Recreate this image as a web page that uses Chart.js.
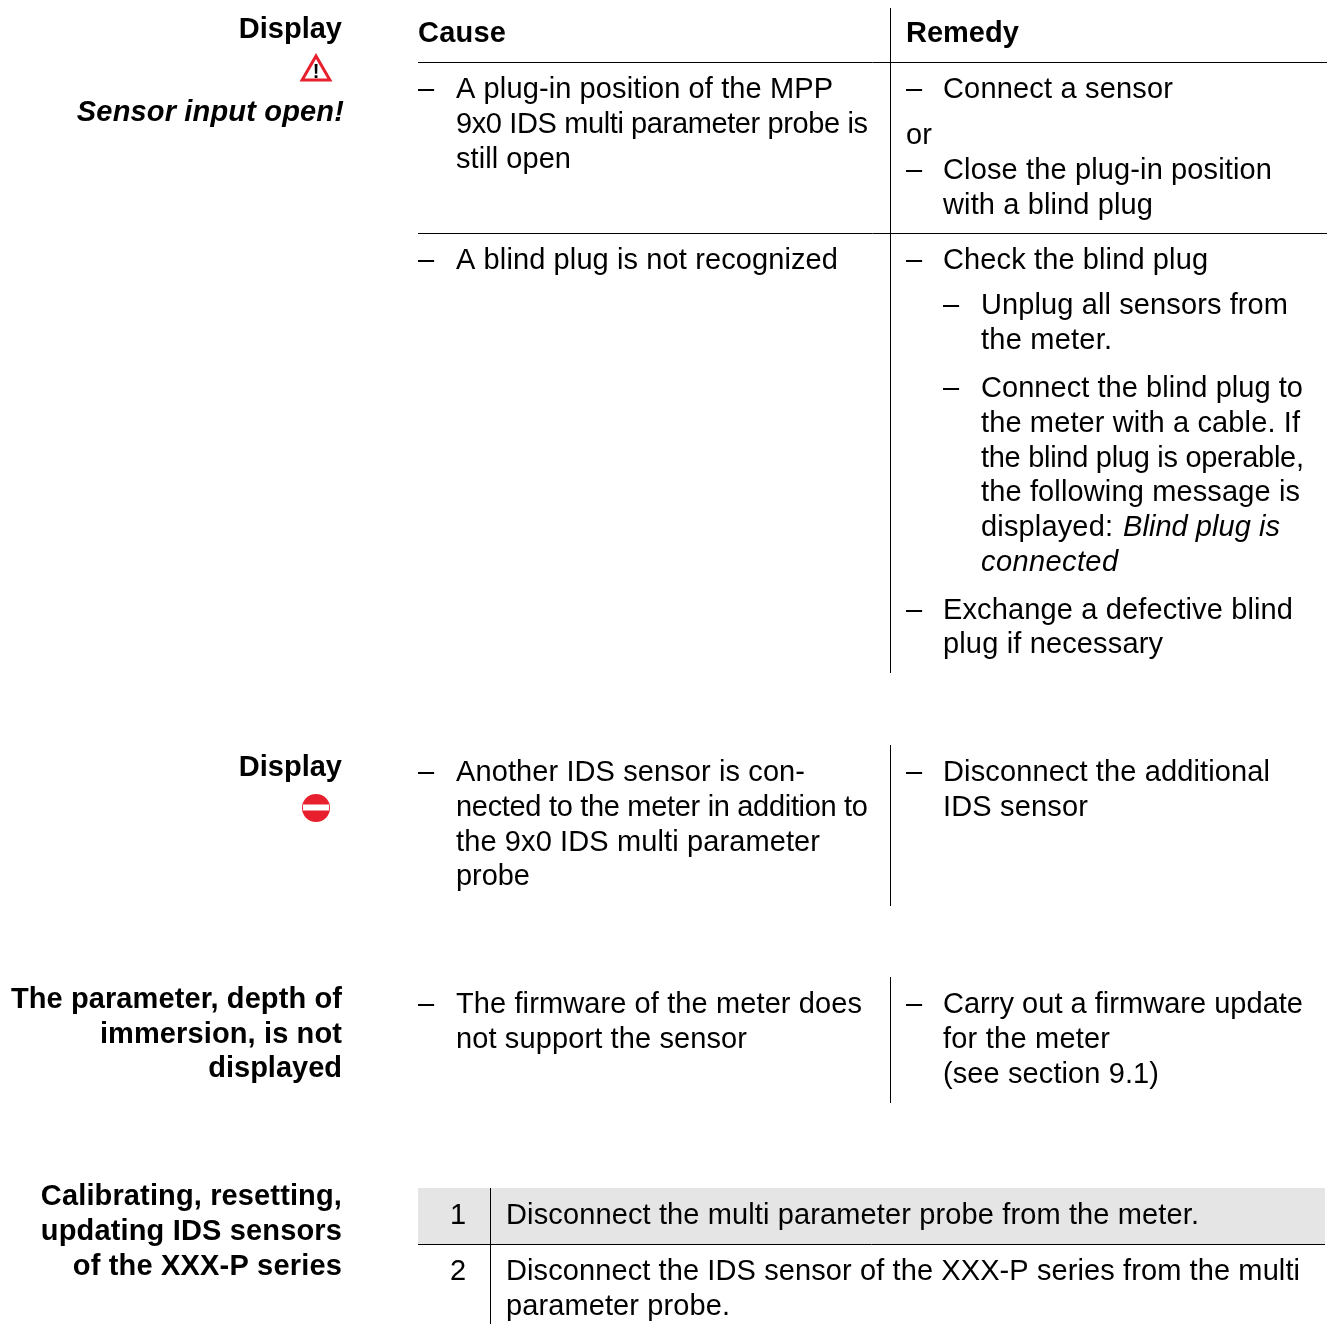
<!DOCTYPE html>
<html>
<head>
<meta charset="utf-8">
<title>Display, cause and remedy</title>
<script src="https://cdn.jsdelivr.net/npm/chart.js@4/dist/chart.umd.min.js"></script>
<style>
    html, body { margin: 0; padding: 0; background: #fff; }
    canvas { display: block; }
</style>
</head>
<body>
<canvas id="page" width="1330" height="1324"></canvas>
<script>
// text lines: [anchor x, baseline, text, optional far edge x]
const headings = [
    [342, 38, "Display"],
    [342, 776, "Display"],
    [342, 1008, "The parameter, depth of", 11],
    [342, 1043, "immersion, is not", 100],
    [342, 1077, "displayed"],
    [342, 1205, "Calibrating, resetting,", 41],
    [342, 1240, "updating IDS sensors", 41],
    [342, 1275, "of the XXX-P series", 73],
];
const errorMessages = [[344, 121, "Sensor input open!", 77]];
const columnTitles = [
    [418, 42, "Cause", 506],
    [906, 42, "Remedy"],
];
const causeLines = [
    [418, 98, "–"], [456, 98, "A plug-in position of the MPP", 833],
    [456, 133, "9x0 IDS multi parameter probe is", 868],
    [456, 168, "still open", 571],
    [418, 269, "–"], [456, 269, "A blind plug is not recognized", 838],
    [418, 781, "–"], [456, 781, "Another IDS sensor is con-", 805],
    [456, 816, "nected to the meter in addition to", 868],
    [456, 851, "the 9x0 IDS multi parameter", 820],
    [456, 885, "probe", 530],
    [418, 1013, "–"], [456, 1013, "The firmware of the meter does", 862],
    [456, 1048, "not support the sensor", 747],
];
const remedyLines = [
    [906, 98, "–"], [943, 98, "Connect a sensor", 1173],
    [906, 144, "or"],
    [906, 179, "–"], [943, 179, "Close the plug-in position", 1272],
    [943, 214, "with a blind plug", 1153],
    [906, 269, "–"], [943, 269, "Check the blind plug", 1208],
    [943, 314, "–"], [981, 314, "Unplug all sensors from", 1288],
    [981, 349, "the meter.", 1112],
    [943, 397, "–"], [981, 397, "Connect the blind plug to", 1303],
    [981, 432, "the meter with a cable. If", 1300],
    [981, 467, "the blind plug is operable,", 1304],
    [981, 501, "the following message is", 1300],
    [981, 536, "displayed:", 1113],
    [906, 619, "–"], [943, 619, "Exchange a defective blind", 1293],
    [943, 653, "plug if necessary", 1163],
    [906, 781, "–"], [943, 781, "Disconnect the additional", 1270],
    [943, 816, "IDS sensor", 1088],
    [906, 1013, "–"], [943, 1013, "Carry out a firmware update", 1303],
    [943, 1048, "for the meter", 1110],
    [943, 1083, "(see section 9.1)", 1159],
];
const italicLines = [
    [1123, 536, "Blind plug is", 1280],
    [981, 571, "connected", 1118],
];
const stepNumbers = [
    [450, 1224, "1"],
    [450, 1280, "2"],
];
const stepText = [
    [506, 1224, "Disconnect the multi parameter probe from the meter.", 1199],
    [506, 1280, "Disconnect the IDS sensor of the XXX-P series from the multi", 1300],
    [506, 1315, "parameter probe.", 730],
];
const warningMark = [[316, 78, "!"]];

// rules as [x1, y1, x2, y2]
const rules = [
    [890.5, 8, 890.5, 673],
    [890.5, 745, 890.5, 906],
    [890.5, 977, 890.5, 1103],
    [490.5, 1188, 490.5, 1324],
    [418, 62.5, 1327, 62.5],
    [418, 233.5, 1327, 233.5],
    [418, 1244.5, 1325, 1244.5],
];
const stepBand = [[418, 1216], [1325, 1216]];
const warningPoint = [[316, 72]];
const stopPoint = [[316, 808]];
const stopBar = [[303, 807.5], [329, 807.5]];

const lineDatasets = rules.map(r => ({
    data: [{ x: r[0], y: r[1] }, { x: r[2], y: r[3] }],
    showLine: true,
    borderColor: "#000",
    borderWidth: 1,
    pointRadius: 0,
}));

function toPoints(list) {
    return list.map(p => ({ x: p[0], y: p[1] }));
}

// draws the page text at the scale positions, after the datasets
const textPlugin = {
    id: "pageText",
    afterDatasetsDraw(chart) {
        const ctx = chart.ctx;
        const xs = chart.scales.x;
        const ys = chart.scales.y;
        const put = (lines, font, align) => {
            ctx.font = font;
            ctx.textAlign = align;
            ctx.textBaseline = "alphabetic";
            ctx.fillStyle = "#000";
            lines.forEach(l => {
                ctx.letterSpacing = "0px";
                if (l[3] !== undefined) {
                    // stretch the line to the width it has in the page
                    const width = Math.abs(l[3] - l[0]);
                    const gap = (width - ctx.measureText(l[2]).width) / (l[2].length - 1);
                    ctx.letterSpacing = gap.toFixed(3) + "px";
                }
                ctx.fillText(l[2], xs.getPixelForValue(l[0]), ys.getPixelForValue(l[1]));
            });
            ctx.letterSpacing = "0px";
        };
        const face = '"Liberation Sans", Arial, sans-serif';
        ctx.save();
        put(headings, "bold 29px " + face, "right");
        put(errorMessages, "italic bold 29px " + face, "right");
        put(columnTitles, "bold 29px " + face, "left");
        put(causeLines, "29px " + face, "left");
        put(remedyLines, "29px " + face, "left");
        put(italicLines, "italic 29px " + face, "left");
        put(stepNumbers, "29px " + face, "left");
        put(stepText, "29px " + face, "left");
        put(warningMark, "bold 20px " + face, "center");
        ctx.restore();
    },
};

// first dataset is painted last, so the marks on top come first
new Chart(document.getElementById("page"), {
    type: "scatter",
    data: {
        datasets: [
            {
                data: toPoints(stopBar),
                showLine: true,
                borderColor: "#fff",
                borderWidth: 6,
                borderCapStyle: "butt",
                pointRadius: 0,
            },
            {
                data: toPoints(stopPoint),
                pointStyle: "circle",
                pointRadius: 14,
                pointBackgroundColor: "#e8202e",
                pointBorderWidth: 0,
            },
            {
                data: toPoints(warningPoint),
                pointStyle: "triangle",
                pointRadius: 16,
                pointBackgroundColor: "#fff",
                pointBorderColor: "#e8202e",
                pointBorderWidth: 3,
            },
            ...lineDatasets,
            {
                data: toPoints(stepBand),
                showLine: true,
                borderColor: "#e5e5e5",
                borderWidth: 56,
                borderCapStyle: "butt",
                pointRadius: 0,
            },
        ],
    },
    options: {
        responsive: false,
        animation: false,
        layout: { padding: 0, autoPadding: false },
        events: [],
        plugins: { legend: { display: false }, tooltip: { enabled: false } },
        scales: {
            x: { type: "linear", display: false, min: 0, max: 1330 },
            y: { type: "linear", display: false, min: 0, max: 1324, reverse: true },
        },
    },
    plugins: [textPlugin],
});
</script>
</body>
</html>
